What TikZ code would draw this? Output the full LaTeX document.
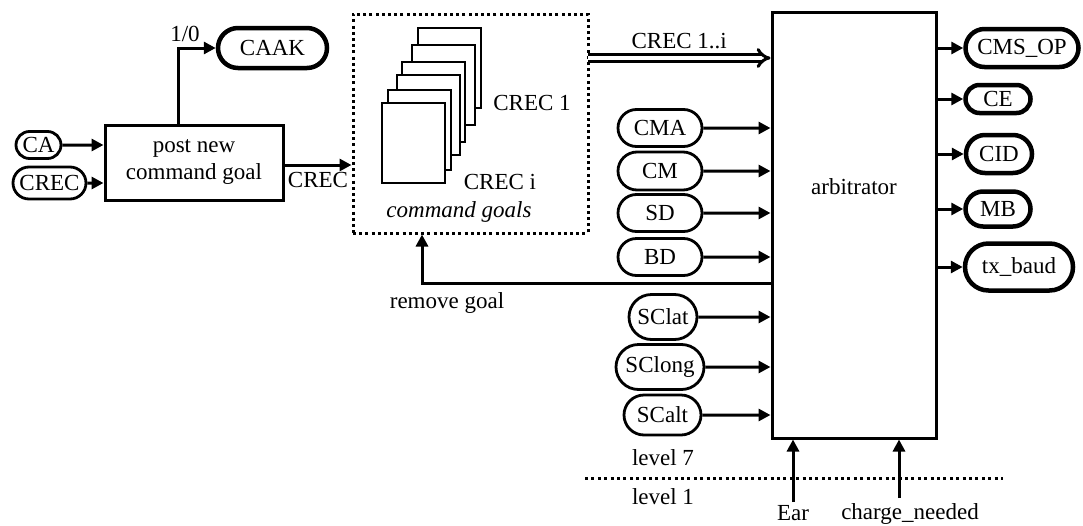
\documentclass[tikz,border=0pt]{standalone}
\usepackage{fontspec}
\setmainfont{Liberation Serif}
\usetikzlibrary{arrows.meta, positioning, shapes.misc}
\newcommand\mainsize{\fontsize{23}{27}\selectfont}

\begin{document}
\begin{tikzpicture}[
  x=1pt, y=-1pt,
  font=\mainsize,
  inp/.style={rounded rectangle, draw, line width=2.8pt, inner xsep=1pt, inner ysep=0pt},
  outp/.style={rounded rectangle, draw, line width=4.5pt, inner xsep=1pt, inner ysep=0pt},
  blk/.style={draw, line width=3pt, align=center, inner sep=0pt},
  goalbox/.style={draw, line width=3pt, dash pattern=on 3pt off 3.2pt},
  page/.style={draw, line width=2.8pt, fill=white},
  arr/.style={-{Triangle[length=12pt,width=12pt]}, line width=3pt},
  dbl/.style={-{Implies}, double, double distance=3.4pt, line width=3pt},
  lvl/.style={line width=3pt, dash pattern=on 3pt off 3.4pt}
]
  \useasboundingbox (0,0) rectangle (1083,525);

  % left: goal posting
  \node[inp, minimum width=47pt, minimum height=27pt] (CA) at (38.5,145) {CA};
  \node[inp, minimum width=75pt, minimum height=32pt] (CRECin) at (49.5,183) {CREC};
  \node[blk, minimum width=178pt, minimum height=75pt] (post) at (194,162.5) {post new\\command goal};
  \node[outp, minimum width=111pt, minimum height=40pt] (CAAK) at (272.5,48) {CAAK};

  % command goal store
  \node[goalbox, minimum width=235pt, minimum height=219pt] (goals) at (470.5,123.5) {};
  \foreach \px/\py in {418/28, 412/45, 402/62, 397/75, 388/90, 382/103}
    \draw[page] (\px,\py) rectangle ++(63,80);
  \node (crec1) at (532,103) {CREC 1};
  \node (creci) at (500,182) {CREC i};
  \node (cgoals) at (459,212) {\itshape command goals};

  % arbitrator
  \node[blk, minimum width=164pt, minimum height=426pt,
        label={[yshift=38pt]center:arbitrator}] (arb) at (854,225) {};

  % inputs
  \node[inp, minimum width=86pt, minimum height=37pt] (CMA) at (660,128) {CMA};
  \node[inp, minimum width=86pt, minimum height=38pt] (CM) at (660,171) {CM};
  \node[inp, minimum width=86pt, minimum height=37pt] (SD) at (660,213) {SD};
  \node[inp, minimum width=86pt, minimum height=37pt] (BD) at (660,257) {BD};
  \node[inp, minimum width=70pt, minimum height=45pt] (SClat) at (663,317) {SClat};
  \node[inp, minimum width=90pt, minimum height=45pt] (SClong) at (660,367) {SClong};
  \node[inp, minimum width=79pt, minimum height=40pt] (SCalt) at (662.5,415) {SCalt};

  % outputs
  \node[outp, minimum width=115pt, minimum height=38pt] (CMSOP) at (1022,48) {CMS\_OP};
  \node[outp, minimum width=67pt, minimum height=28pt] (CE) at (998,99) {CE};
  \node[outp, minimum width=68pt, minimum height=38pt] (CID) at (999,154) {CID};
  \node[outp, minimum width=67pt, minimum height=35pt] (MB) at (998,209) {MB};
  \node[outp, minimum width=110pt, minimum height=47pt] (txbaud) at (1019,267) {tx\_baud};

  % connectors
  \draw[arr] (CA) -- (CA -| post.west);
  \draw[arr] (CRECin) -- (CRECin -| post.west);
  \draw[arr] ([xshift=-16pt]post.north) |- (CAAK)
    node[pos=0.5, above=1pt, xshift=7pt] {1/0};
  \draw[arr] ([yshift=-2.5pt]post.east) -- ([yshift=-2.5pt]post.east -| goals.west)
    node[midway, below=2pt] {CREC};

  \coordinate (dblin) at (588,58);
  \draw[dbl] (dblin) -- (dblin -| arb.west) node[midway, above=4pt] {CREC 1..i};

  \foreach \n in {CMA,CM,SD,BD,SClat,SClong,SCalt}
    \draw[arr] (\n) -- (\n -| arb.west);
  \foreach \n in {CMSOP,CE,CID,MB,txbaud}
    \draw[arr] (\n -| arb.east) -- (\n);

  \coordinate (rg) at (422,283);
  \draw[arr] (rg -| arb.west) -| (rg |- goals.south);
  \node[anchor=north, xshift=25pt, yshift=-7pt, inner sep=2pt] (rmlab) at (rg) {remove goal};

  % level boundary
  \coordinate (lvA) at (585,478);
  \coordinate (lvB) at (1003,478);
  \draw[lvl] (lvA) -- (lvB);
  \node (lev7) at (663,458) {level 7};
  \node (lev1) at (663,497) {level 1};

  % level 1 inputs
  \coordinate (ear) at (793,502);
  \coordinate (chg) at (899,498);
  \draw[arr] (ear) -- (ear |- arb.south);
  \draw[arr] (chg) -- (chg |- arb.south);
  \node[below=2pt of ear, inner sep=1pt] (earlab) {Ear};
  \node[below=4pt of chg, xshift=11pt, inner sep=1pt] (chglab) {charge\_needed};
\end{tikzpicture}
\end{document}
